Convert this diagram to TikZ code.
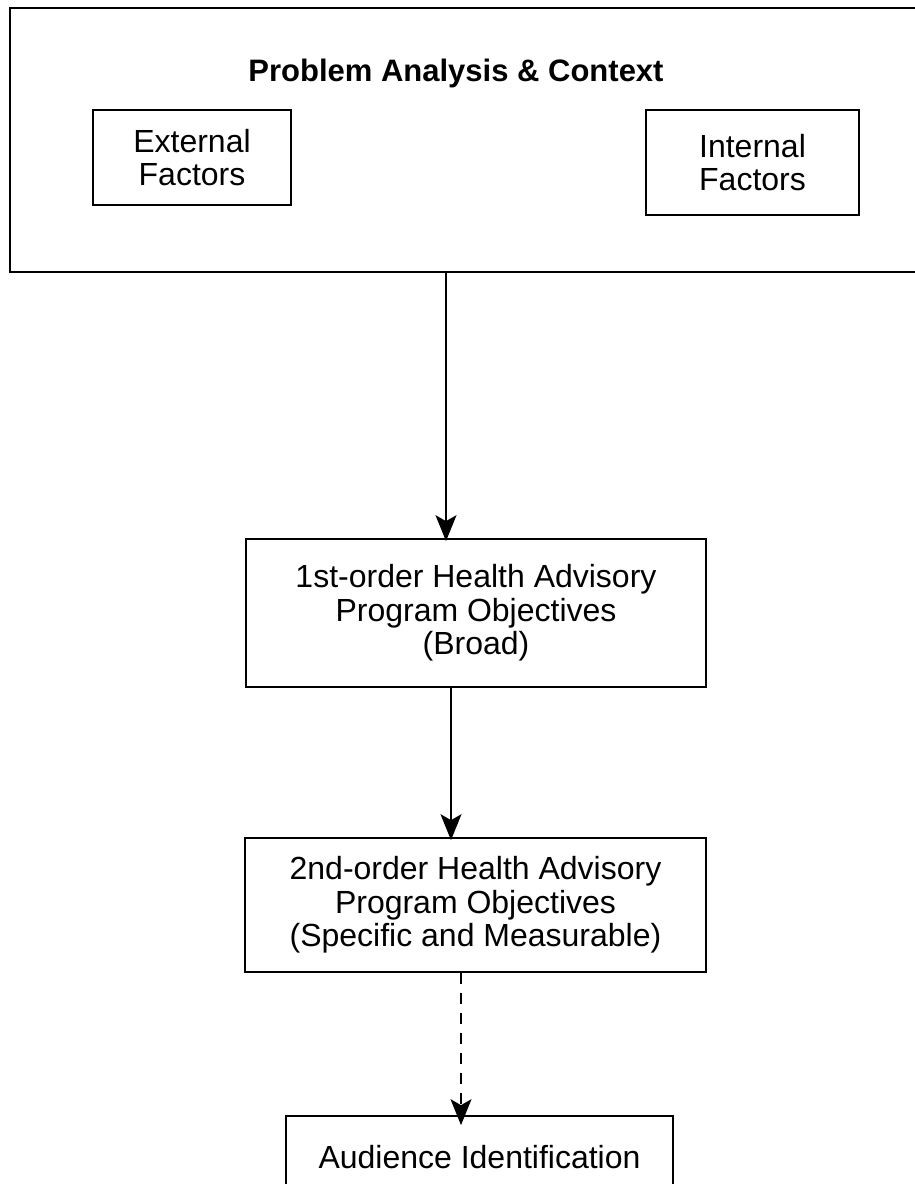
\documentclass[tikz,border=0pt]{standalone}
\usepackage{fontspec}
\setmainfont{Liberation Sans}
\usetikzlibrary{arrows.meta}

\tikzset{
  frame/.style={draw=black, line width=1.7pt, inner sep=0pt, align=center,
    font=\fontsize{32}{33.5}\selectfont},
  heading/.style={font=\bfseries\fontsize{31}{33}\selectfont, inner sep=0pt},
  link/.style={line width=1.4pt, -{Stealth[length=26pt, width=21pt, inset=6pt]}},
  dashlink/.style={link, dash pattern=on 11pt off 9pt}
}

\begin{document}
\begin{tikzpicture}[x=1pt, y=-1pt]
  \useasboundingbox (0,0) rectangle (915,1184);

  % context frame (runs past the right edge)
  \node[frame, line width=2.2pt, minimum width=915pt, minimum height=264pt] (ctx) at (467.5,140) {};
  \node[heading] (title) at (456,73) {Problem Analysis \& Context};
  \node[frame, minimum width=198pt, minimum height=95pt] (ext) at (192,157.5) {External\\Factors};
  \node[frame, minimum width=213pt, minimum height=105pt] (int) at (752.5,162.5) {Internal\\Factors};

  % objective boxes
  \node[frame, minimum width=460pt, minimum height=148pt] (obj1) at (476,613)
    {1st-order Health Advisory\\Program Objectives\\(Broad)};
  \node[frame, minimum width=461pt, minimum height=134pt] (obj2) at (475.5,905)
    {2nd-order Health Advisory\\Program Objectives\\(Specific and Measurable)};

  % audience box (runs past the bottom edge)
  \node[frame, minimum width=387pt, minimum height=82pt] (aud) at (479.5,1157)
    {Audience Identification};

  % connector columns
  \coordinate (c1) at (446,0);
  \coordinate (c2) at (451,0);
  \coordinate (c3) at (461,0);

  \draw[link] (ctx.south -| c1) -- ([yshift=-3pt]obj1.north -| c1);
  \draw[link] (obj1.south -| c2) -- ([yshift=-3pt]obj2.north -| c2);
  \draw[dashlink] (obj2.south -| c3) -- ([yshift=-10pt]aud.north -| c3);
\end{tikzpicture}
\end{document}
